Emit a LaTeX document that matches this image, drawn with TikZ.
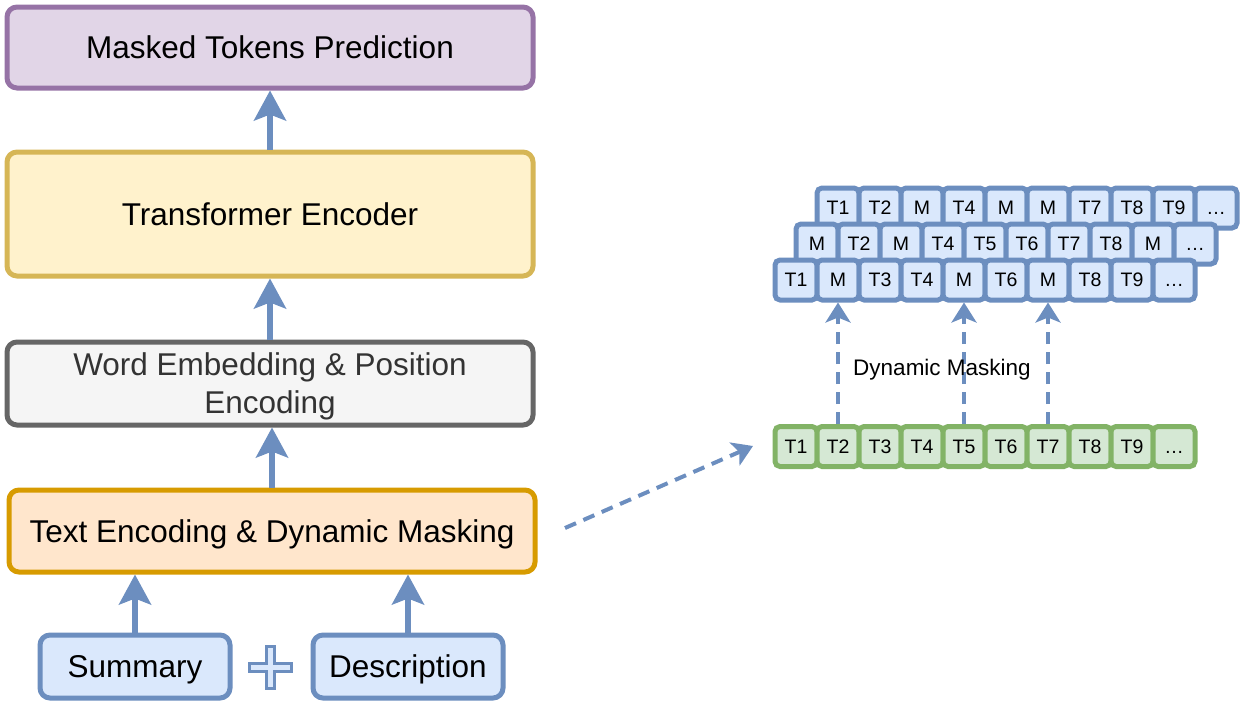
\documentclass[tikz,border=0pt]{standalone}
\usepackage{fontspec}
\setmainfont{Liberation Sans}
\usetikzlibrary{arrows.meta,calc}
\definecolor{bluestroke}{HTML}{6C8EBF}
\definecolor{bluefill}{HTML}{DAE8FC}
\definecolor{greenstroke}{HTML}{82B366}
\definecolor{greenfill}{HTML}{D5E8D4}
\definecolor{purplestroke}{HTML}{9673A6}
\definecolor{purplefill}{HTML}{E1D5E7}
\definecolor{yellowstroke}{HTML}{D6B656}
\definecolor{yellowfill}{HTML}{FFF2CC}
\definecolor{graystroke}{HTML}{666666}
\definecolor{grayfill}{HTML}{F5F5F5}
\definecolor{graytext}{HTML}{333333}
\definecolor{orangestroke}{HTML}{D79B00}
\definecolor{orangefill}{HTML}{FFE6CC}
\begin{document}
\begin{tikzpicture}[x=1pt,y=-1pt,
  bigbox/.style={rectangle, rounded corners=10pt, line width=5pt, inner sep=0pt,
    minimum width=526pt, font=\fontsize{31.5}{38}\selectfont, align=center,
    text height=22.6pt, text depth=0pt},
  srcbox/.style={rectangle, rounded corners=10pt, line width=5pt, inner sep=0pt,
    minimum width=190pt, minimum height=63pt, draw=bluestroke, fill=bluefill,
    font=\fontsize{31.5}{38}\selectfont, text height=22.6pt, text depth=0pt},
  tok/.style={rectangle, rounded corners=5pt, line width=5pt, draw=bluestroke, fill=bluefill,
    minimum width=42pt, minimum height=40pt, inner sep=0pt,
    text height=13.8pt, text depth=0pt, font=\fontsize{19.5}{22}\selectfont},
  gtok/.style={tok, draw=greenstroke, fill=greenfill},
  arr/.style={draw=bluestroke, line width=5.5pt, -{Stealth[length=30pt,width=32pt,inset=6pt]}},
  darr/.style={draw=bluestroke, line width=4pt, dash pattern=on 12pt off 8pt,
    -{Stealth[length=20pt,width=25pt,inset=5pt]}},
  plusshape/.style={draw=bluestroke, fill=bluefill, line width=3pt},
]
\useasboundingbox (0,0) rectangle (1257,704);

% left column
\node[bigbox, draw=purplestroke, fill=purplefill, minimum height=81pt] (mtp) at (270,47.5) {Masked Tokens Prediction};
\node[bigbox, draw=yellowstroke, fill=yellowfill, minimum height=124pt] (te) at (270,214) {Transformer Encoder};
\node[bigbox, draw=graystroke, fill=grayfill, text=graytext, minimum height=83pt, text height=60.6pt] (we) at (270,383.5) {Word Embedding \& Position\\Encoding};
\node[bigbox, draw=orangestroke, fill=orangefill, minimum height=82pt] (tenc) at (272,531) {Text Encoding \& Dynamic Masking};
\node[srcbox] (sum) at (135,666.5) {Summary};
\node[srcbox] (desc) at (408,666.5) {Description};
\coordinate (plus) at (270,667);
\draw[plusshape] ([shift={(-21,-4)}]plus) -- ++(17,0) -- ++(0,-17) -- ++(8,0) -- ++(0,17)
  -- ++(17,0) -- ++(0,8) -- ++(-17,0) -- ++(0,17) -- ++(-8,0) -- ++(0,-17) -- ++(-17,0) -- cycle;

\draw[arr] (te.north) -- (mtp.south);
\draw[arr] (we.north) -- (te.south);
\draw[arr] (tenc.north) -- (tenc.north |- we.south);
\draw[arr] (sum.north) -- (sum.north |- tenc.south);
\draw[arr] (desc.north) -- (desc.north |- tenc.south);

% token rows
\foreach \t [count=\i] in {T1,T2,M,T4,M,M,T7,T8,T9,…}
  \node[tok] (a\i) at ({838+42*(\i-1)},208) {\t};
\foreach \t [count=\i] in {M,T2,M,T4,T5,T6,T7,T8,M,…}
  \node[tok] (b\i) at ({817+42*(\i-1)},244) {\t};
\foreach \t [count=\i] in {T1,M,T3,T4,M,T6,M,T8,T9,…}
  \node[tok] (c\i) at ({796+42*(\i-1)},280) {\t};
\foreach \t [count=\i] in {T1,T2,T3,T4,T5,T6,T7,T8,T9,…}
  \node[gtok] (g\i) at ({796+42*(\i-1)},446.5) {\t};

\draw[darr] (g2.north) -- (c2.south);
\draw[darr] (g5.north) -- (c5.south);
\draw[darr] (g7.north) -- (c7.south);
\node[font=\fontsize{22.5}{26}\selectfont] (dm) at (942,370) {Dynamic Masking};

\coordinate (ds) at (565,528);
\coordinate (de) at (753,446);
\draw[darr] (ds) -- (de);
\end{tikzpicture}
\end{document}
